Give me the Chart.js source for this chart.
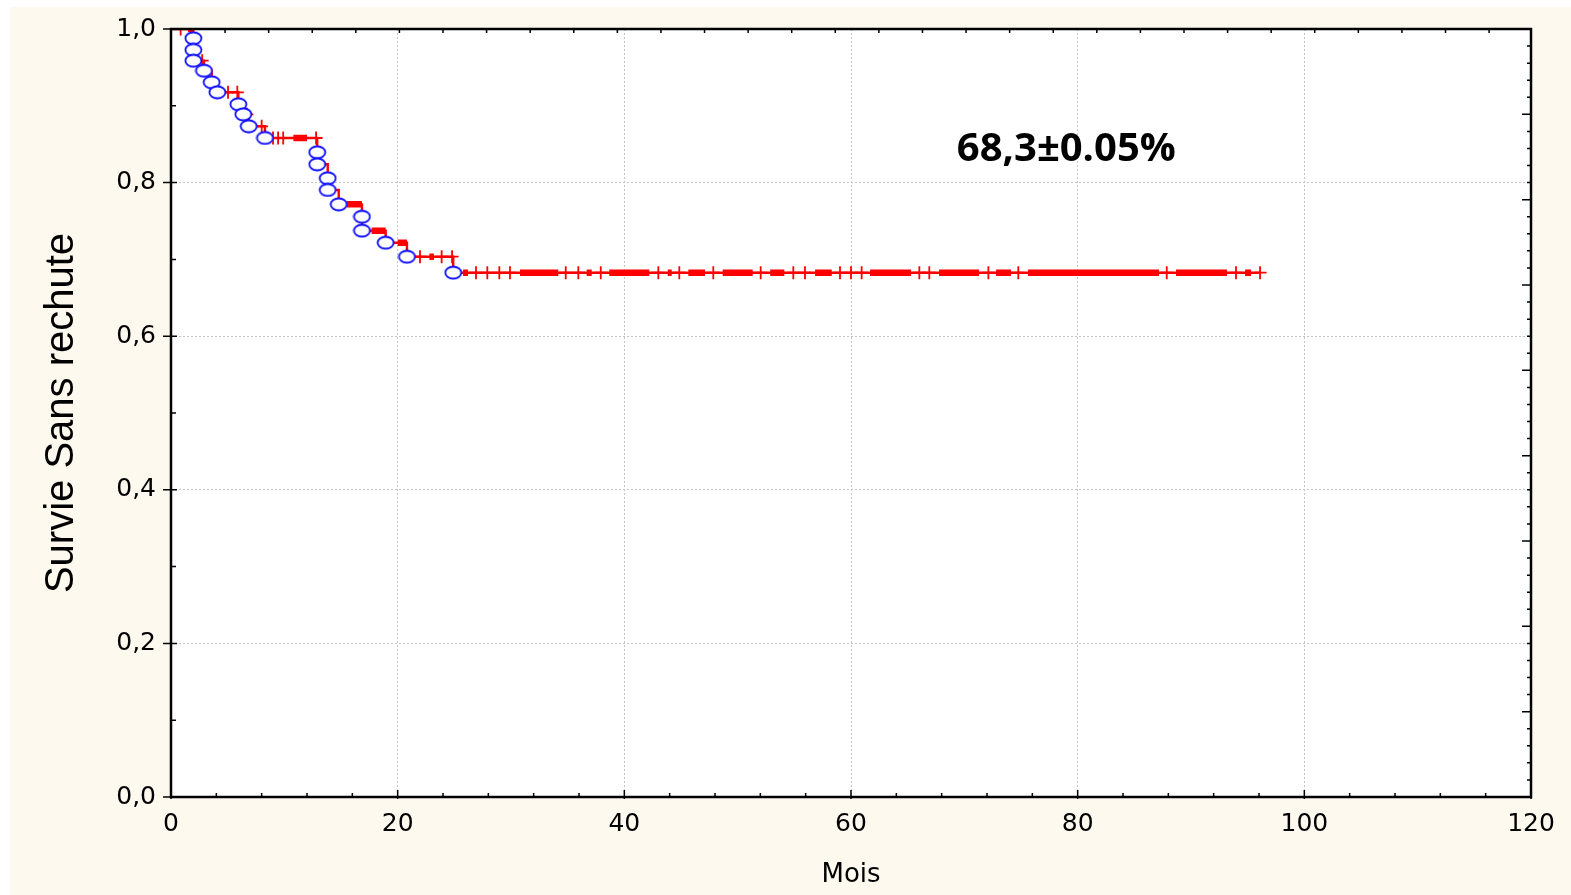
<!DOCTYPE html>
<html>
<head>
<meta charset="utf-8">
<title>Survie sans rechute</title>
<script src="https://cdn.jsdelivr.net/npm/chart.js@4.4.1/dist/chart.umd.min.js"></script>
<style>
    html, body { margin: 0; padding: 0; background: #ffffff; }
    #wrap {
        position: absolute;
        left: 10px;
        top: 7px;
        width: 1561px;
        height: 888px;
        background: #fdf9ee;
    }
</style>
</head>
<body>
<div id="wrap"><canvas id="km-chart"></canvas></div>
<script>
// Kaplan-Meier curve (steps): time in months, survival after each drop
const dropTimes = [0, 1.97, 2.91, 3.59, 4.09, 5.94, 6.38, 6.86, 8.29, 12.9, 13.83, 14.8, 16.85, 18.94, 20.82, 24.9, 96.1];
const dropSurvival = [1, 0.9587, 0.9457, 0.9306, 0.9176, 0.9020, 0.8889, 0.8733, 0.8581, 0.8238, 0.7904, 0.7717, 0.7374, 0.7217, 0.7035, 0.6827, 0.6827];

// complete observations (blue circles)
const eventTimes = [1.97, 1.97, 1.97, 2.91, 3.59, 4.09, 5.94, 6.38, 6.86, 8.29, 12.9, 12.9, 13.83, 13.83, 14.8, 16.85, 16.85, 18.94, 20.82, 24.9];
const eventSurvival = [0.9879, 0.9727, 0.9587, 0.9457, 0.9306, 0.9176, 0.9020, 0.8889, 0.8733, 0.8581, 0.8395, 0.8238, 0.8056, 0.7904, 0.7717, 0.7556, 0.7374, 0.7217, 0.7035, 0.6827];

// censored observations (red crosses)
const censorTimes = [0.85, 2.75, 5.03, 5.85, 6.7, 8.0, 9.0, 9.45, 9.9, 12.8, 21.97, 23.88, 24.8,
    26.91, 27.91, 28.97, 29.91, 34.83, 35.94, 37.92, 43.0, 44.85, 47.85, 52.03, 54.91, 55.94,
    59.03, 60.0, 60.94, 66.03, 66.91, 72.12, 74.76, 87.86, 93.97, 96.09];
const censorSurvival = [1.0, 0.9587, 0.9176, 0.9176, 0.8889, 0.8733, 0.8581, 0.8581, 0.8581, 0.8581, 0.7035, 0.7035, 0.7035,
    0.6827, 0.6827, 0.6827, 0.6827, 0.6827, 0.6827, 0.6827, 0.6827, 0.6827, 0.6827, 0.6827, 0.6827, 0.6827,
    0.6827, 0.6827, 0.6827, 0.6827, 0.6827, 0.6827, 0.6827, 0.6827, 0.6827, 0.6827];

// stretches where the censor marks pile up into a thick bar
const thickStart = [1.5, 10.8, 15.5, 17.7, 20.0, 22.8, 25.77, 30.79, 36.68, 38.67, 43.83, 45.65, 48.68, 52.87, 56.83, 61.68, 67.77, 72.8, 75.62, 88.68, 94.77];
const thickEnd = [1.97, 12.0, 16.85, 18.94, 20.82, 23.2, 26.21, 34.17, 37.12, 42.2, 44.18, 47.12, 51.33, 54.12, 58.3, 65.3, 71.3, 74.12, 87.18, 93.18, 95.3];
const thickLevel = [1.0, 0.8581, 0.7717, 0.7374, 0.7217, 0.7035, 0.6827, 0.6827, 0.6827, 0.6827, 0.6827, 0.6827, 0.6827, 0.6827, 0.6827, 0.6827, 0.6827, 0.6827, 0.6827, 0.6827, 0.6827];

const xTickLabels = ['0', '20', '40', '60', '80', '100', '120'];
const yTickLabels = ['0,0', '0,2', '0,4', '0,6', '0,8', '1,0'];

const annotationText = '68,3\u00b10.05%';
const annotationAt = { x: 79, y: 0.843 };

// build datasets from the arrays
const stepPoints = dropTimes.map((t, i) => ({ x: t, y: dropSurvival[i] }));
const eventPoints = eventTimes.map((t, i) => ({ x: t, y: eventSurvival[i] }));
const censorPoints = censorTimes.map((t, i) => ({ x: t, y: censorSurvival[i] }));
const thickPoints = [];
thickStart.forEach((s, i) => {
    thickPoints.push({ x: s, y: thickLevel[i] });
    thickPoints.push({ x: thickEnd[i], y: thickLevel[i] });
    thickPoints.push({ x: thickEnd[i], y: null });
});

// open ellipse marker like the original
const ellipse = document.createElement('canvas');
ellipse.width = 19;
ellipse.height = 15;
(function() {
    const c = ellipse.getContext('2d');
    c.strokeStyle = '#0d0dff';
    c.lineWidth = 1.8;
    c.fillStyle = '#ffffff';
    c.beginPath();
    c.ellipse(9.5, 7.5, 8, 6, 0, 0, Math.PI * 2);
    c.fill();
    c.stroke();
})();

// white plot area
const plotBackground = {
    id: 'plotBackground',
    beforeDraw(chart) {
        const a = chart.chartArea;
        chart.ctx.save();
        chart.ctx.fillStyle = '#ffffff';
        chart.ctx.fillRect(a.left, a.top, a.right - a.left, a.bottom - a.top);
        chart.ctx.restore();
    }
};

// frame, inner ticks and the percentage label
const framePlugin = {
    id: 'frame',
    afterDatasetsDraw(chart) {
        const ctx = chart.ctx;
        const a = chart.chartArea;
        const xs = chart.scales.x;
        const ys = chart.scales.y;
        ctx.save();
        ctx.strokeStyle = '#000000';
        ctx.lineWidth = 2.5;
        ctx.strokeRect(a.left, a.top, a.right - a.left, a.bottom - a.top);

        ctx.lineWidth = 1.5;
        ctx.beginPath();
        // left axis
        for (let k = 0; k <= 10; k++) {
            const py = ys.getPixelForValue(k / 10);
            if (k % 2 === 0) {
                ctx.moveTo(a.left - 8, py); ctx.lineTo(a.left + 6, py);
            } else {
                ctx.moveTo(a.left, py); ctx.lineTo(a.left + 5, py);
            }
        }
        // bottom axis
        for (let v = 0; v <= 120; v += 4) {
            const px = xs.getPixelForValue(v);
            if (v % 20 === 0) {
                ctx.moveTo(px, a.bottom + 2); ctx.lineTo(px, a.bottom - 7);
            } else {
                ctx.moveTo(px, a.bottom); ctx.lineTo(px, a.bottom - 4);
            }
        }
        // right axis
        for (let k = 0; k <= 45; k++) {
            const py = ys.getPixelForValue(k / 45);
            ctx.moveTo(a.right, py);
            ctx.lineTo(a.right - (k % 5 === 0 ? 9 : 4), py);
        }
        // top axis
        for (let v = 4.77; v < 119; v += 3.846) {
            const px = xs.getPixelForValue(v);
            ctx.moveTo(px, a.top); ctx.lineTo(px, a.top + 4);
        }
        ctx.stroke();

        ctx.fillStyle = '#000000';
        ctx.font = 'bold 40px "Open Sans"';
        ctx.textAlign = 'center';
        ctx.textBaseline = 'middle';
        ctx.fillText(annotationText, xs.getPixelForValue(annotationAt.x), ys.getPixelForValue(annotationAt.y));
        ctx.restore();
    }
};

const gridColor = function(context) {
    const v = context.tick ? context.tick.value : null;
    if (v === null) return 'transparent';
    const sc = context.scale;
    if (v === sc.min || v === sc.max) return 'transparent';
    return '#c4c4c4';
};

new Chart(document.getElementById('km-chart'), {
    type: 'scatter',
    data: {
        datasets: [
            {
                label: 'Observations complètes',
                data: eventPoints,
                pointStyle: ellipse,
                pointRadius: 7,
                showLine: false,
                order: 0
            },
            {
                label: 'Observations censurées',
                data: censorPoints,
                pointStyle: 'cross',
                pointRadius: 6.5,
                pointBorderWidth: 1.8,
                borderColor: '#ff0000',
                backgroundColor: '#ff0000',
                showLine: false,
                order: 1
            },
            {
                label: 'bloc',
                data: thickPoints,
                type: 'line',
                showLine: true,
                spanGaps: false,
                borderColor: '#ff0000',
                borderWidth: 6.5,
                borderCapStyle: 'butt',
                pointRadius: 0,
                order: 2
            },
            {
                label: 'Survie',
                data: stepPoints,
                type: 'line',
                showLine: true,
                stepped: true,
                borderColor: '#ff0000',
                borderWidth: 2.4,
                pointRadius: 0,
                order: 3
            }
        ]
    },
    options: {
        responsive: true,
        maintainAspectRatio: false,
        animation: false,
        layout: {
            padding: { top: 22, right: 40, left: 0, bottom: 0 }
        },
        plugins: {
            legend: { display: false },
            tooltip: { enabled: false }
        },
        scales: {
            x: {
                type: 'linear',
                min: 0,
                max: 120,
                border: { display: false, dash: [2, 2] },
                grid: { color: gridColor, lineWidth: 1, drawTicks: false },
                ticks: {
                    stepSize: 20,
                    padding: 12,
                    color: '#000000',
                    font: { family: '"DejaVu Sans", Arial', size: 25 },
                    callback: function(value, index) { return xTickLabels[index]; }
                },
                title: {
                    display: true,
                    text: 'Mois',
                    color: '#000000',
                    font: { family: '"DejaVu Sans", Arial', size: 26 },
                    padding: { top: 10 }
                },
                afterFit: function(scale) { scale.height = 98; }
            },
            y: {
                min: 0,
                max: 1,
                border: { display: false, dash: [2, 2] },
                grid: { color: gridColor, lineWidth: 1, drawTicks: false },
                ticks: {
                    stepSize: 0.2,
                    padding: 15,
                    color: '#000000',
                    font: { family: '"DejaVu Sans", Arial', size: 25 },
                    callback: function(value, index) { return yTickLabels[index]; }
                },
                title: {
                    display: true,
                    text: 'Survie Sans rechute',
                    color: '#000000',
                    font: { family: '"Liberation Sans", Arial', size: 40 },
                    padding: { top: 28, bottom: 0 }
                },
                afterFit: function(scale) {
                    scale.width = 161;
                    scale.paddingTop = 8;
                    scale.paddingBottom = 8;
                }
            }
        }
    },
    plugins: [plotBackground, framePlugin]
});
</script>
</body>
</html>
